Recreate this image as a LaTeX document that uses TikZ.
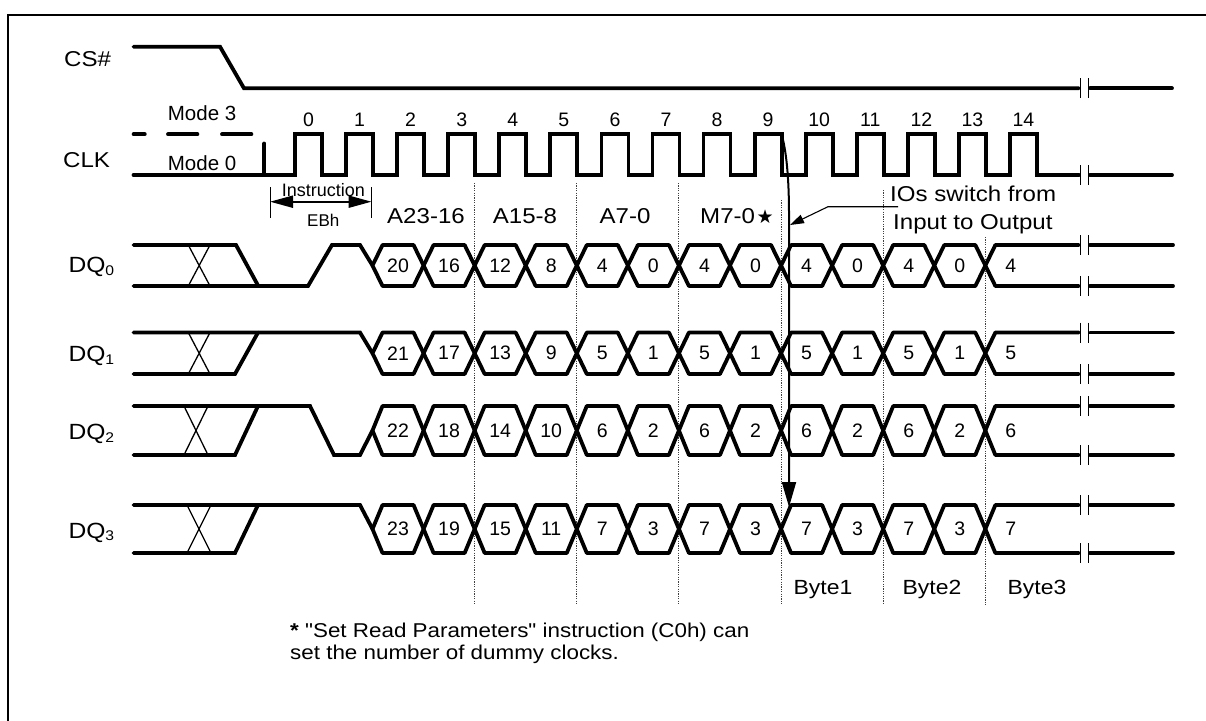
\documentclass[tikz,border=0pt]{standalone}
\usepackage{fontspec}
\setmainfont{Liberation Sans}[FakeStretch=1.12]
\newfontfamily\plainfont{Liberation Sans}
\newfontfamily\footfont{Liberation Sans}[FakeStretch=1.12, Ligatures=TeXOff]
\newfontfamily\starfont{DejaVu Sans}
\usetikzlibrary{arrows.meta}

\newcommand\dqrow[4]{%
  \pgfmathsetmacro\dqym{(#2+#3)/2}%
  \foreach \k in {0,...,11}{%
    \pgfmathsetmacro\xa{372.5+51.07*\k}%
    \pgfmathsetmacro\xb{\xa+51.07}%
    \draw[hexs] (\xa,\dqym) -- ({\xa+10},{#2}) -- ({\xb-10},{#2}) -- (\xb,\dqym) -- ({\xb-10},{#3}) -- ({\xa+10},{#3}) -- cycle;
  }%
  \pgfmathsetmacro\xl{372.5+51.07*12}%
  \draw[hexs] (1079,{#2}) -- ({\xl+10},{#2}) -- (\xl,\dqym) -- ({\xl+10},{#3}) -- (1079,{#3});
  \draw[sig] (1090,{#2}) -- (1173,{#2}) (1090,{#3}) -- (1173,{#3});
  \draw[brk] (1080.5,{#2-10}) -- (1080.5,{#2+10}) (1088.5,{#2-10}) -- (1088.5,{#2+10})
             (1080.5,{#3-10}) -- (1080.5,{#3+10}) (1088.5,{#3-10}) -- (1088.5,{#3+10});
  \foreach \lab [count=\k from 0] in {#4}{%
    \node[num] (d#1-\k) at ({398+51.07*\k},\dqym) {\lab};
  }%
}
\newcommand\dqsub[1]{\raisebox{-2.5pt}{\fontsize{14}{14}\selectfont #1}}

\begin{document}
\begin{tikzpicture}[x=1pt,y=-1pt,
  sig/.style={line width=3.8pt, line cap=round, line join=miter},
  hexs/.style={line width=3.8pt, line cap=round, line join=round},
  thinx/.style={line width=1.3pt},
  brk/.style={line width=1.5pt},
  guide/.style={line width=0.9pt, dash pattern=on 1.2pt off 1.2pt, black!75},
  lbl/.style={font=\fontsize{21.5}{24}\selectfont, inner sep=0pt},
  dqlbl/.style={font=\fontsize{22}{24}\selectfont, inner sep=0pt, anchor=base west},
  bytel/.style={font=\fontsize{20.5}{24}\selectfont, inner sep=0pt, anchor=base},
  num/.style={font=\plainfont\fontsize{19.5}{22}\selectfont, inner sep=0pt},
  modelbl/.style={font=\plainfont\fontsize{20.5}{22}\selectfont, inner sep=0pt, anchor=base west},
  smalllbl/.style={font=\plainfont\fontsize{18}{20}\selectfont, inner sep=0pt, anchor=base},
  foot/.style={font=\footfont\fontsize{20}{22}\selectfont, inner sep=0pt, anchor=base west},
]
\useasboundingbox (0,0) rectangle (1206,720);
\fill[white] (0,0) rectangle (1206,720);
\draw[line width=1.4pt] (8,725) -- (8,15) -- (1210,15);

% guides
\draw[guide] (474.6,183) -- (474.6,605);
\draw[guide] (576.8,183) -- (576.8,605);
\draw[guide] (678.9,183) -- (678.9,605);
\draw[guide] (781.1,200) -- (781.1,605);
\draw[guide] (883.2,190) -- (883.2,605);
\draw[guide] (985.3,237) -- (985.3,605);

% CS#
\node[lbl, anchor=base west] (cs) at (64,66) {CS\#};
\draw[sig] (133.5,46.7) -- (220,46.7) -- (244,88.3) -- (1079,88.3);
\draw[sig] (1090,88.3) -- (1172,88.3);
\draw[brk] (1080.5,78) -- (1080.5,98) (1088.5,78) -- (1088.5,98);

% CLK
\node[lbl, anchor=base west] (clk) at (63,167.7) {CLK};
\node[modelbl] (m3) at (167.7,120.7) {Mode 3};
\node[modelbl] (m0) at (167.7,170.7) {Mode 0};
\draw[sig] (133.6,134.3) -- (144.8,134.3) (168,134.3) -- (197.4,134.3) (222,134.3) -- (251.4,134.3);
\draw[sig] (133.5,175) -- (264.3,175)
  \foreach \k in {0,...,14}{ -- ({295+51.07*\k},175) -- ({295+51.07*\k},134.3) -- ({322+51.07*\k},134.3) -- ({322+51.07*\k},175)}
  -- (1079,175);
\draw[sig] (264.3,175) -- (264.3,143.5);
\draw[sig] (1090,175) -- (1172,175);
\draw[brk] (1080.5,165) -- (1080.5,185) (1088.5,165) -- (1088.5,185);
\foreach \k in {0,...,14}{\node[num, anchor=base] (c\k) at ({308.5+51.07*\k},126) {\k};}

% instruction
\coordinate (il) at (270,201.7);
\coordinate (ir) at (371.5,201.7);
\draw[line width=0.9pt] (270,187) -- (270,218) (371.5,187) -- (371.5,218);
\draw[line width=2pt, {Triangle[length=23pt,width=12pt]}-{Triangle[length=23pt,width=12pt]}] (il) -- (ir);
\node[smalllbl] (ins) at (323.3,196.7) {Instruction};
\node[smalllbl, font=\plainfont\fontsize{17}{20}\selectfont] (ebh) at (323.3,226.7) {EBh};

% field labels
\node[lbl, anchor=base] (fa1) at (426,223.3) {A23-16};
\node[lbl, anchor=base] (fa2) at (525,223.3) {A15-8};
\node[lbl, anchor=base] (fa3) at (625,223.3) {A7-0};
\node[lbl, anchor=base west] (fa4) at (700,223.3) {M7-0\hspace{1.5pt}{\starfont\fontsize{19}{20}\selectfont ★}};

% IOs switch
\node[lbl, anchor=base west] (ios1) at (890,201.7) {IOs switch from};
\node[lbl, anchor=base west] (ios2) at (893,229) {Input to Output};
\coordinate (pstart) at (898,206.7);
\coordinate (pbend) at (828,206.7);
\coordinate (ptip) at (790,225);
\draw[line width=1.1pt, -{Triangle[length=14pt,width=9pt]}] (pstart) -- (pbend) -- (ptip);

% DQ labels
\node[dqlbl] (dq0) at (68.3,272.7) {DQ\dqsub{0}};
\node[dqlbl] (dq1) at (68.3,361.7) {DQ\dqsub{1}};
\node[dqlbl] (dq2) at (68.3,439.5) {DQ\dqsub{2}};
\node[dqlbl] (dq3) at (68.3,538) {DQ\dqsub{3}};

% DQ0
\draw[sig] (133.5,245) -- (236,245) -- (258.3,286);
\draw[sig] (133.5,286) -- (308,286) -- (332,245) -- (360,245) -- (372.5,265.5);
\draw[thinx] (188.3,245) -- (210,286) (210,245) -- (188.3,286);
\dqrow{0}{245}{286}{20,16,12,8,4,0,4,0,4,0,4,0,4}

% DQ1
\draw[sig] (133.5,332.5) -- (360,332.5) -- (372.5,353.25);
\draw[sig] (133.5,374) -- (235,374) -- (258,332.5);
\draw[thinx] (188.3,332.5) -- (210,374) (210,332.5) -- (188.3,374);
\dqrow{1}{332.5}{374}{21,17,13,9,5,1,5,1,5,1,5,1,5}

% DQ2
\draw[sig] (133.5,406) -- (310,406) -- (334,455) -- (360,455) -- (372.5,430.5);
\draw[sig] (133.5,455) -- (235,455) -- (258,406);
\draw[thinx] (184,406) -- (208,455) (208,406) -- (184,455);
\dqrow{2}{406}{455}{22,18,14,10,6,2,6,2,6,2,6,2,6}

% DQ3
\draw[sig] (133.5,505) -- (360,505) -- (372.5,529);
\draw[sig] (133.5,553) -- (235,553) -- (258,505);
\draw[thinx] (187,505) -- (211,553) (211,505) -- (187,553);
\dqrow{3}{505}{553}{23,19,15,11,7,3,7,3,7,3,7,3,7}

% main arrow
\coordinate (clk9f) at (781.6,134.3);
\coordinate (dq3t) at (789,507);
\draw[line width=2pt, -{Triangle[length=25pt,width=14pt]}] (clk9f) .. controls (786,150) and (789,175) .. (789,215) -- (dq3t);

% bytes
\node[bytel] (b1) at (823,594) {Byte1};
\node[bytel] (b2) at (932,594) {Byte2};
\node[bytel] (b3) at (1037,594) {Byte3};

% footnote
\node[foot] (fn1) at (290,637) {\textbf{*} "Set Read Parameters" instruction (C0h) can};
\node[foot] (fn2) at (290,659) {set the number of dummy clocks.};
\end{tikzpicture}
\end{document}
